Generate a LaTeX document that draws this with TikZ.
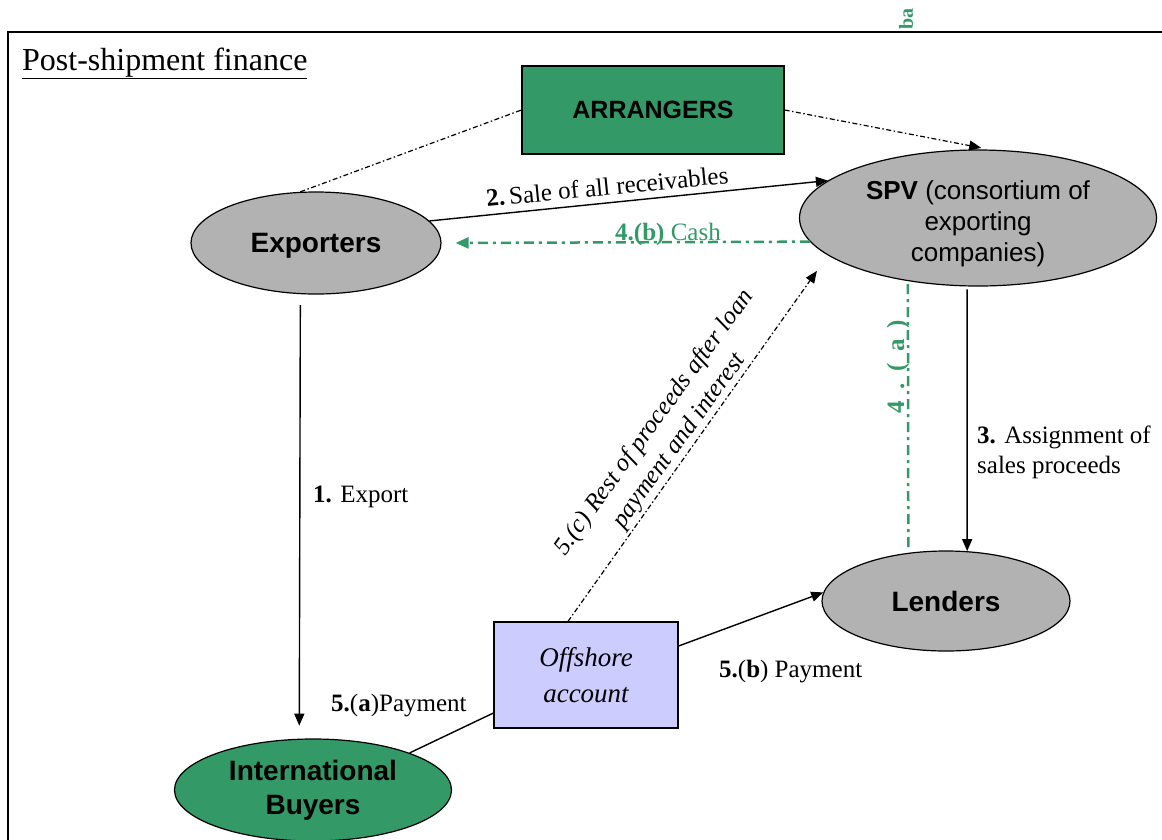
\documentclass[tikz,border=0pt]{standalone}
\usepackage{fontspec}
\setmainfont{Liberation Serif}
\setsansfont{Liberation Sans}
\usetikzlibrary{arrows.meta,shapes.geometric}
\definecolor{dgreen}{RGB}{51,153,102}
\definecolor{lgray}{RGB}{178,178,178}
\definecolor{lav}{RGB}{204,204,255}
\begin{document}
\begin{tikzpicture}[x=1pt,y=-1pt,
  ell/.style={ellipse,draw,line width=1.2pt,inner sep=0pt,align=center,
    font=\sffamily\bfseries\fontsize{28}{34}\selectfont},
  boxsty/.style={rectangle,draw,line width=1.2pt,inner sep=0pt,align=center},
  lab/.style={inner sep=0pt,font=\fontsize{25}{30}\selectfont},
  tip/.style={-{Triangle[length=12pt,width=10pt]}},
  solidl/.style={line width=1.4pt},
  dashthin/.style={line width=1.2pt,dash pattern=on 5pt off 2.5pt on 1.5pt off 2.5pt},
  greendd/.style={draw=dgreen,line width=2.5pt,dash pattern=on 10pt off 5pt on 3pt off 5pt}]
\useasboundingbox (0,0) rectangle (1162,839);
% frame
\draw[line width=1.8pt] (8,850) -- (8,32) -- (1175,32);
\node[font=\bfseries\fontsize{20}{20}\selectfont,text=dgreen,rotate=90,inner sep=0pt] (art) at (906,19) {ba};
% title
\node[anchor=base west,inner sep=0pt,font=\fontsize{32}{36}\selectfont] (title) at (22,70) {\underline{Post-shipment finance}};
% nodes
\node[boxsty,fill=dgreen,minimum width=262pt,minimum height=88pt,
  font=\sffamily\bfseries\fontsize{25}{30}\selectfont] (arr) at (653,110) {ARRANGERS};
\node[ell,fill=lgray,minimum width=250pt,minimum height=102pt] (exp) at (316,243)
  {\raisebox{-3pt}[\height][\depth]{Exporters}};
\node[ell,fill=lgray,minimum width=357pt,minimum height=136pt,
  font=\sffamily\fontsize{26}{31}\selectfont] (spv) at (978,218)
  {\raisebox{-6pt}[\height][\depth]{\begin{tabular}{@{}c@{}}\textbf{SPV} (consortium of\\exporting\\companies)\end{tabular}}};
\node[ell,fill=lgray,minimum width=248pt,minimum height=100pt] (len) at (946,601) {Lenders};
\node[ell,fill=dgreen,minimum width=277pt,minimum height=102pt] (buy) at (313,790) {International\\Buyers};
\node[boxsty,fill=lav,minimum width=184pt,minimum height=106pt,
  font=\itshape\fontsize{27}{36}\selectfont] (off) at (586,675) {Offshore\\account};
% connectors
\draw[dashthin] (exp.107) -- (arr.west);
\draw[dashthin,tip,shorten >=9pt] (arr.east) -- (spv.80);
\draw[solidl,tip] (exp.11) -- (spv.166);
\draw[greendd,-{Triangle[length=13pt,width=11pt]},dgreen,shorten >=14pt] (spv.188) -- (exp.east);
\draw[solidl,tip,shorten <=11pt,shorten >=13pt] (exp.253) -- (buy.105);
\draw[solidl,tip,shorten <=3pt] (spv.261) -- (len.67);
\draw[greendd,shorten <=3pt,shorten >=4pt] (spv.222) -- (len.128);
\draw[dashthin,tip,shorten >=19pt] ([xshift=-18pt]off.north) -- (spv.194);
\draw[solidl,tip] ([yshift=29pt]off.east) -- (len.176);
\draw[solidl] (buy.21) -- ([yshift=-38pt]off.west);
% labels
\node[lab,rotate=5.6,anchor=base] (l2) at (608,195) {\textbf{2.}\,Sale of all receivables};
\node[lab,text=dgreen,anchor=base] (l4b) at (668,240) {\textbf{4.(b)} Cash};
\node[lab,anchor=base west] (l1) at (313,502) {\textbf{1.} Export};
\node[lab,align=left,anchor=north west] (l3) at (977,426) {\textbf{3.} Assignment of\\sales proceeds};
\node[lab,text=dgreen,font=\bfseries\fontsize{25}{30}\selectfont,rotate=90] (l4a) at (898,367)
  {4\hspace{12pt}.\hspace{12pt}(\hspace{11pt}a\hspace{11pt})};
\node[lab,font=\itshape\fontsize{25}{31}\selectfont,rotate=54,align=center] (l5c) at (667,432)
  {5.(c) Rest of proceeds after loan\\payment and interest};
\node[lab,anchor=base west] (l5b) at (719,677) {\textbf{5.}(\textbf{b}) Payment};
\node[lab,anchor=base west] (l5a) at (331,711) {\textbf{5.}(\textbf{a})Payment};
\end{tikzpicture}
\end{document}
